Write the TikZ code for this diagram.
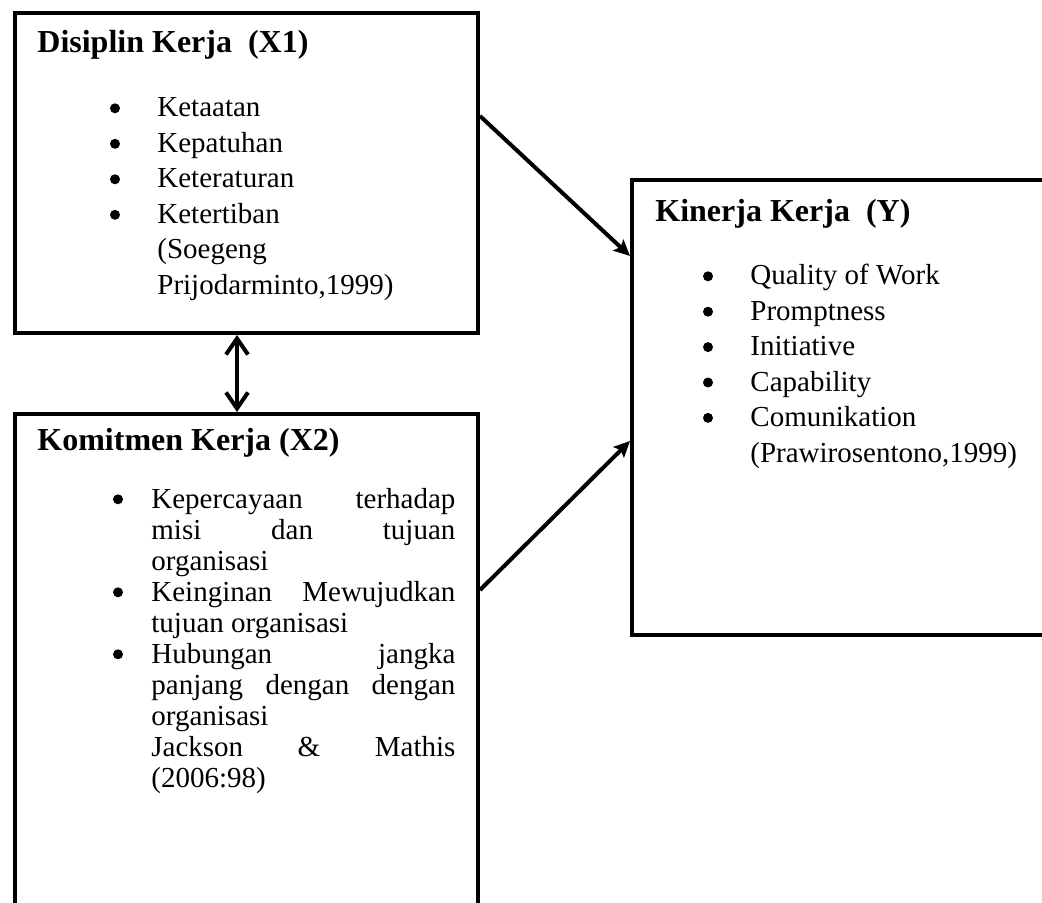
\documentclass[tikz,border=0pt]{standalone}
\usepackage{fontspec}
\setmainfont{Liberation Serif}
\usetikzlibrary{positioning,calc,arrows.meta}

\begin{document}
\begin{tikzpicture}[x=0.5pt,y=-0.5pt,
    box/.style={draw,line width=2pt,inner sep=0pt},
    ttl/.style={anchor=base west,inner sep=0pt,font=\fontsize{16pt}{19pt}\selectfont\bfseries},
    itm/.style={anchor=base west,inner sep=0pt,font=\fontsize{14.5pt}{17pt}\selectfont},
    dot/.style={circle,fill,inner sep=0pt,minimum size=5pt},
    link/.style={line width=2pt,-{Stealth[length=8pt,width=7.5pt,inset=1.5pt]}},
    twoway/.style={line width=2pt,{Straight Barb[length=8pt,width=11pt]}-{Straight Barb[length=8pt,width=11pt]}}]
        \useasboundingbox (0,0) rectangle (1042,903);
        \clip (0,0) rectangle (1042,903);

        % Boxes
        \node[box,minimum width=231.5pt,minimum height=160pt] (disiplin) at (246.5,173) {};
        \node[box,minimum width=231.5pt,minimum height=268pt] (komitmen) at (246.5,682) {};
        \node[box,minimum width=234pt,minimum height=227.5pt] (kinerja) at (866,407.5) {};

        % Disiplin Kerja (X1)
        \node[ttl] (t1) at (37,53) {Disiplin Kerja\ \ (X1)};
        \foreach \txt [count=\i] in {Ketaatan,Kepatuhan,Keteraturan,Ketertiban}{
            \node[itm] (a\i) at (157,{117+35.5*(\i-1)}) {\txt};
            \node[dot] (ad\i) at (115,{108.3+35.5*(\i-1)}) {};
        }
        \node[itm] (a5) at (157,259) {(Soegeng};
        \node[itm] (a6) at (157,294.5) {Prijodarminto,1999)};

        % Komitmen Kerja (X2)
        \node[ttl] (t2) at (37,450) {Komitmen Kerja (X2)};
        \foreach \txt [count=\i] in {
            {\makebox[152pt][s]{Kepercayaan terhadap}},
            {\makebox[152pt][s]{misi dan tujuan}},
            {organisasi},
            {\makebox[152pt][s]{Keinginan Mewujudkan}},
            {tujuan organisasi},
            {\makebox[152pt][s]{Hubungan jangka}},
            {\makebox[152pt][s]{panjang dengan dengan}},
            {organisasi},
            {\makebox[152pt][s]{Jackson \& Mathis}},
            {(2006:98)}}
            \node[itm] (b\i) at (151,{508+31*(\i-1)}) {\txt};
        \foreach \i in {1,4,6}
            \node[dot] (bd\i) at (118,{499.3+31*(\i-1)}) {};

        % Kinerja Kerja (Y)
        \node[ttl] (t3) at (655,222) {Kinerja Kerja\ \ (Y)};
        \foreach \txt [count=\i] in {Quality of Work,Promptness,Initiative,Capability,Comunikation}{
            \node[itm] (c\i) at (750,{285+35.4*(\i-1)}) {\txt};
            \node[dot] (cd\i) at (708,{276.3+35.4*(\i-1)}) {};
        }
        \node[itm] (c6) at (750,462) {(Prawirosentono,1999)};

        % Arrows
        \draw[link] ($(disiplin.north east)+(0,105)$) -- ($(kinerja.north west)+(0,78)$);
        \draw[link] ($(komitmen.north east)+(0,178)$) -- ($(kinerja.north west)+(0,263)$);
        \draw[twoway] ($(disiplin.south)+(-9.5,0)$) -- ($(komitmen.north)+(-9.5,0)$);
    \end{tikzpicture}
\end{document}
